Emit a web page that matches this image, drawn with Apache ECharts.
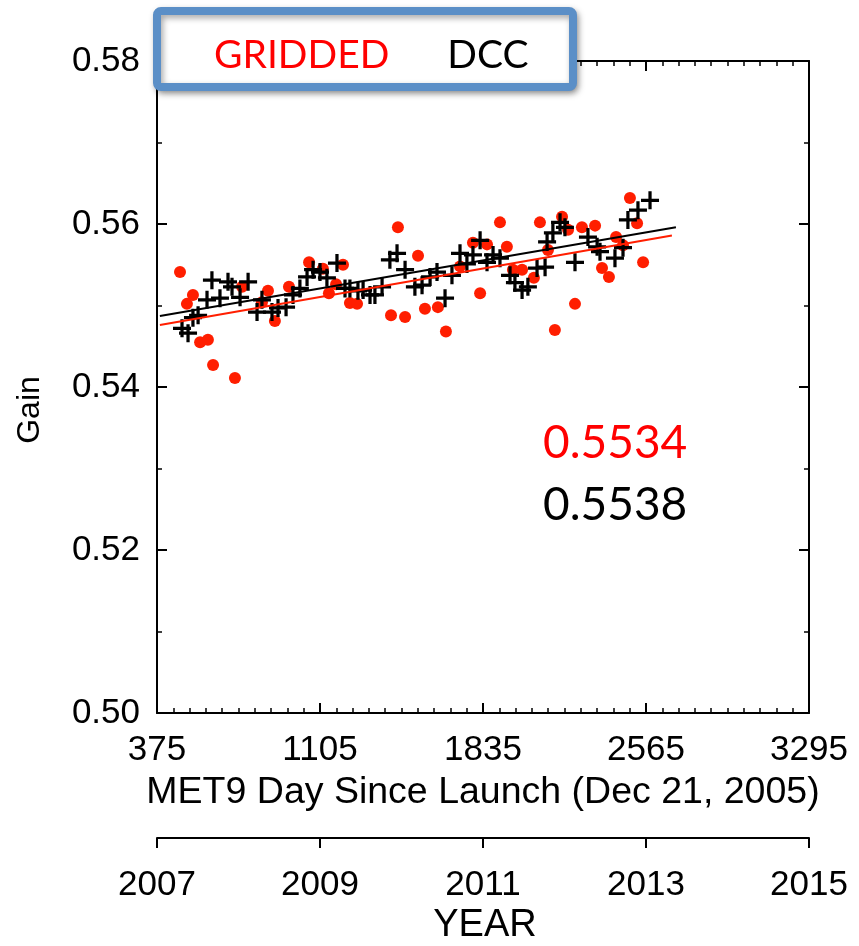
<!DOCTYPE html>
<html>
<head>
<meta charset="utf-8">
<title>MET9 Gain</title>
<script src="https://cdn.jsdelivr.net/npm/echarts@6/dist/echarts.min.js"></script>
<style>
  html, body { margin: 0; padding: 0; background: #ffffff; }
  #chart { width: 859px; height: 946px; }
</style>
</head>
<body>
<div id="chart"></div>
<script>
// Monthly gain, gridded method (red dots)
const griddedDays = [478, 509, 536, 568, 603, 626, 724, 756, 845, 872, 903, 966, 1056, 1118, 1145, 1177, 1208, 1239, 1271,
  1423, 1454, 1486, 1544, 1575, 1633, 1669, 1732, 1790, 1822, 1853, 1911, 1942, 1969, 2010, 2063, 2090, 2126, 2157,
  2189, 2216, 2247, 2278, 2337, 2368, 2399, 2431, 2462, 2493, 2525, 2552];
const griddedGain = [0.5541, 0.5502, 0.5513, 0.5455, 0.5458, 0.5427, 0.5411, 0.5523, 0.5504, 0.5518, 0.5481, 0.5523, 0.5553, 0.5545, 0.5515, 0.5526, 0.5550, 0.5503, 0.5502,
  0.5488, 0.5596, 0.5486, 0.5561, 0.5496, 0.5498, 0.5468, 0.5548, 0.5577, 0.5515, 0.5575, 0.5602, 0.5572, 0.5544, 0.5544, 0.5534, 0.5602, 0.5568, 0.5470,
  0.5609, 0.5593, 0.5502, 0.5596, 0.5598, 0.5546, 0.5535, 0.5584, 0.5574, 0.5632, 0.5601, 0.5553];

// Monthly gain, deep convective cloud method (black crosses)
const dccDays = [487, 514, 536, 559, 599, 621, 657, 693, 711, 747, 783, 823, 845, 890, 917, 953, 984, 1015, 1047, 1074,
  1105, 1136, 1181, 1217, 1239, 1275, 1298, 1329, 1351, 1383, 1418, 1450, 1486, 1530, 1562, 1598, 1629, 1665, 1696,
  1732, 1763, 1790, 1822, 1853, 1880, 1911, 1956, 1978, 2010, 2036, 2077, 2113, 2122, 2148, 2180, 2202, 2247, 2305,
  2346, 2359, 2426, 2462, 2484, 2529, 2583];
const dccGain = [0.5472, 0.5466, 0.5485, 0.5488, 0.5507, 0.5531, 0.5509, 0.5529, 0.5523, 0.5510, 0.5529, 0.5492, 0.5507, 0.5492, 0.5497, 0.5498, 0.5513, 0.5521, 0.5535, 0.5544,
  0.5541, 0.5534, 0.5552, 0.5521, 0.5521, 0.5518, 0.5519, 0.5513, 0.5513, 0.5523, 0.5556, 0.5564, 0.5544, 0.5523, 0.5525, 0.5535, 0.5541, 0.5509, 0.5537,
  0.5564, 0.5551, 0.5562, 0.5580, 0.5553, 0.5562, 0.5558, 0.5537, 0.5528, 0.5519, 0.5523, 0.5546, 0.5547, 0.5578, 0.5589, 0.5602, 0.5596, 0.5553, 0.5584,
  0.5572, 0.5566, 0.5558, 0.5571, 0.5605, 0.5617, 0.5629];

// Linear trend end points (day, gain)
const griddedTrendDays = [388, 2681];
const griddedTrendGain = [0.5476, 0.5586];
const dccTrendDays = [388, 2699];
const dccTrendGain = [0.5487, 0.5596];

// Axis ranges and tick steps
const dayTicks = [375, 1105, 1835, 2565, 3295];
const yearTicks = [2007, 2009, 2011, 2013, 2015];
const gainTicks = [0.50, 0.52, 0.54, 0.56, 0.58];

// Reference gains printed on the panel
const griddedRef = '0.5534';
const dccRef = '0.5538';

const seriesNames = ['GRIDDED', 'DCC'];

const pair = (xs, ys) => xs.map((x, i) => [x, ys[i]]);

const RED = '#ff1e00';
const AXIS_FONT = "'Liberation Sans', Arial, Helvetica, sans-serif";
const NOTE_FONT = "Lato, 'Open Sans', sans-serif";
const PLUS = 'path://M0.41,0 H0.59 V0.41 H1 V0.59 H0.59 V1 H0.41 V0.59 H0 V0.41 H0.41 Z';

const lineStyle = { color: '#000', width: 2 };
const tickIn = { show: true, inside: true, length: 10, lineStyle: { color: '#000', width: 2 } };
const minorIn = (n) => ({ show: true, splitNumber: n, length: 5, lineStyle: { color: '#000', width: 1.5 } });
const labelStyle = { color: '#000', fontFamily: AXIS_FONT, fontSize: 35 };

const dayMin = dayTicks[0], dayMax = dayTicks[dayTicks.length - 1], dayStep = dayTicks[1] - dayTicks[0];
const yrMin = yearTicks[0], yrMax = yearTicks[yearTicks.length - 1], yrStep = yearTicks[1] - yearTicks[0];
const gMin = gainTicks[0], gMax = gainTicks[gainTicks.length - 1], gStep = 0.02;

const chart = echarts.init(document.getElementById('chart'), null, { renderer: 'canvas' });

chart.setOption({
  backgroundColor: '#ffffff',
  animation: false,
  grid: { left: 157, right: 50, top: 61, bottom: 233, containLabel: false },
  xAxis: [
    {
      type: 'value', position: 'bottom', min: dayMin, max: dayMax, interval: dayStep,
      axisLine: { show: true, onZero: false, lineStyle },
      axisTick: tickIn, minorTick: minorIn(10), splitLine: { show: false },
      axisLabel: { ...labelStyle, margin: 20, formatter: (v) => String(v) }
    },
    {
      type: 'value', position: 'top', min: dayMin, max: dayMax, interval: dayStep,
      axisLine: { show: true, onZero: false, lineStyle },
      axisTick: tickIn, minorTick: minorIn(10), splitLine: { show: false },
      axisLabel: { show: false }
    },
    {
      type: 'value', position: 'bottom', offset: 125, min: yrMin, max: yrMax, interval: yrStep,
      axisLine: { show: true, onZero: false, lineStyle },
      axisTick: { show: true, inside: false, length: 10, lineStyle: { color: '#000', width: 2 } },
      splitLine: { show: false },
      axisLabel: { ...labelStyle, margin: 30, formatter: (v) => String(v) }
    }
  ],
  yAxis: [
    {
      type: 'value', position: 'left', min: gMin, max: gMax, interval: gStep,
      axisLine: { show: true, onZero: false, lineStyle },
      axisTick: tickIn, minorTick: minorIn(2), splitLine: { show: false },
      axisLabel: { ...labelStyle, margin: 17, formatter: (v) => v.toFixed(2) }
    },
    {
      type: 'value', position: 'right', min: gMin, max: gMax, interval: gStep,
      axisLine: { show: true, onZero: false, lineStyle },
      axisTick: tickIn, minorTick: minorIn(2), splitLine: { show: false },
      axisLabel: { show: false }
    }
  ],
  legend: {
    left: 204, top: 31, itemGap: 53, itemWidth: 0, itemHeight: 0, icon: 'none',
    selectedMode: false, z: 20,
    textStyle: { fontFamily: NOTE_FONT, fontSize: 39, padding: 0 },
    data: [
      { name: seriesNames[0], textStyle: { color: '#ff0000' } },
      { name: seriesNames[1], textStyle: { color: '#000000' } }
    ]
  },
  series: [
    {
      name: seriesNames[0], type: 'scatter', xAxisIndex: 0, yAxisIndex: 0,
      symbol: 'circle', symbolSize: 12, itemStyle: { color: RED, opacity: 1 },
      data: pair(griddedDays, griddedGain), z: 2
    },
    {
      name: seriesNames[1], type: 'scatter', xAxisIndex: 0, yAxisIndex: 0,
      symbol: PLUS, symbolSize: 18, itemStyle: { color: '#000', opacity: 1 },
      data: pair(dccDays, dccGain), z: 3
    },
    {
      name: 'gridded trend', type: 'line', xAxisIndex: 0, yAxisIndex: 0, symbol: 'none',
      lineStyle: { color: RED, width: 2 }, data: pair(griddedTrendDays, griddedTrendGain), z: 4
    },
    {
      name: 'dcc trend', type: 'line', xAxisIndex: 0, yAxisIndex: 0, symbol: 'none',
      lineStyle: { color: '#000', width: 2 }, data: pair(dccTrendDays, dccTrendGain), z: 5
    }
  ],
  graphic: [
    {
      type: 'rect', z: 10,
      shape: { x: 157, y: 11, width: 416, height: 76, r: 4 },
      style: {
        fill: '#ffffff', stroke: '#5b8fc7', lineWidth: 8,
        shadowBlur: 6, shadowColor: 'rgba(0,0,0,0.35)', shadowOffsetX: 2, shadowOffsetY: 3
      }
    },
    {
      type: 'text', x: 543, y: 443, z: 10,
      style: { text: griddedRef, fill: '#ff0000', font: '46px ' + NOTE_FONT, align: 'left', verticalAlign: 'middle' }
    },
    {
      type: 'text', x: 543, y: 505, z: 10,
      style: { text: dccRef, fill: '#000000', font: '46px ' + NOTE_FONT, align: 'left', verticalAlign: 'middle' }
    },
    {
      type: 'text', x: 483, y: 793, z: 10,
      style: { text: 'MET9 Day Since Launch (Dec 21, 2005)', fill: '#000', font: '37.5px ' + AXIS_FONT, align: 'center', verticalAlign: 'middle' }
    },
    {
      type: 'text', x: 485, y: 926, z: 10,
      style: { text: 'YEAR', fill: '#000', font: '38px ' + AXIS_FONT, align: 'center', verticalAlign: 'middle' }
    },
    {
      type: 'text', x: 30, y: 410, rotation: Math.PI / 2, z: 10,
      style: { text: 'Gain', fill: '#000', font: '32px ' + AXIS_FONT, align: 'center', verticalAlign: 'middle' }
    }
  ]
});
</script>
</body>
</html>
